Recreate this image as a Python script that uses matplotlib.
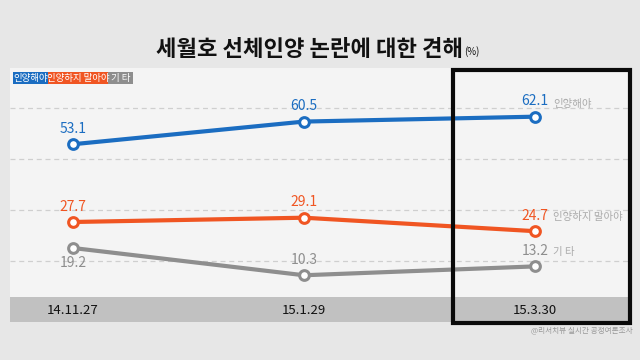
import matplotlib
matplotlib.use("Agg")
import matplotlib.pyplot as plt
from matplotlib.patches import Rectangle
from matplotlib.transforms import blended_transform_factory

plt.rcParams['font.family'] = ['Noto Sans CJK KR', 'DejaVu Sans']

dates = ["14.11.27", "15.1.29", "15.3.30"]
should_raise = [53.1, 60.5, 62.1]
should_not = [27.7, 29.1, 24.7]
other = [19.2, 10.3, 13.2]
series_names = ["인양해야", "인양하지 말아야", "기 타"]
grid_values = [15.0, 31.67, 48.33, 65.0]
title = "세월호 선체인양 논란에 대한 견해"
source = "@리서치뷰 실시간 공정여론조사"

W, H = 640, 360
fig = plt.figure(figsize=(6.4, 3.6), dpi=100)
fig.patch.set_facecolor('#e7e7e7')

def fx(px):
    return px / W

def fy(py):
    return 1 - py / H

# panel background
fig.add_artist(Rectangle((fx(10), fy(297)), fx(622), 229 / H, transform=fig.transFigure,
                         facecolor='#f4f4f4', edgecolor='none', zorder=0))
# date band
fig.add_artist(Rectangle((fx(10), fy(322)), fx(620), 25 / H, transform=fig.transFigure,
                         facecolor='#c1c1c1', edgecolor='none', zorder=0))

ax = fig.add_axes([fx(10), fy(297), fx(622), 229 / H])
ax.set_facecolor('none')
ax.set_xlim(-0.273, 2.42)
ax.set_ylim(3.2, 78.0)
for s in ax.spines.values():
    s.set_visible(False)
ax.set_yticks(grid_values)
ax.set_xticks([])
ax.tick_params(left=False, labelleft=False)
ax.grid(axis='y', color='#cfcfcf', linestyle=(0, (4, 3)), linewidth=0.9)

colors = ['#1b6dc1', '#f05522', '#8e8e8e']
series = [should_raise, should_not, other]
x = list(range(len(dates)))
for vals, c in zip(series, colors):
    ax.plot(x, vals, color=c, linewidth=3, marker='o', markersize=7,
            markerfacecolor='white', markeredgecolor=c, markeredgewidth=2.2,
            solid_capstyle='round', zorder=3)

# value labels (offsets in points)
offsets = [
    [11, 11, 11],
    [11, 11, 11],
    [-11, 11, 11],
]
for vals, c, offs in zip(series, colors, offsets):
    for xi, v, o in zip(x, vals, offs):
        ax.annotate(f"{v:.1f}", (xi, v), xytext=(0, o), textcoords='offset points',
                    ha='center', va='center', fontsize=10, color=c)

# series names at right
name_y = [104, 217, 252]
for name, py in zip(series_names, name_y):
    fig.text(fx(553), fy(py), name, ha='left', va='center', fontsize=7.5, color='#aaaaaa')

# date labels
tr = blended_transform_factory(ax.transData, fig.transFigure)
for xi, d in zip(x, dates):
    ax.text(xi, fy(310), d, transform=tr, ha='center', va='center', fontsize=9.5,
            color='#111111')

# title
fig.text(fx(310), fy(49), title, ha='center', va='center', fontsize=16,
         fontweight='black', color='#111111')
fig.text(fx(464), fy(52), "(%)", ha='left', va='center', fontsize=7, color='#111111')

# legend boxes
legend_boxes = [(13, 48), (48, 108), (108, 133)]
for (x0, x1), name, c in zip(legend_boxes, series_names, colors):
    fig.add_artist(Rectangle((fx(x0), fy(84)), fx(x1 - x0), 12.5 / H,
                             transform=fig.transFigure, facecolor=c, edgecolor='none'))
    fig.text(fx((x0 + x1) / 2), fy(78), name, ha='center', va='center',
             fontsize=6.8, color='white')

# source
fig.text(fx(633), fy(330), source, ha='right', va='center', fontsize=5.5, color='#999999')

# highlight rectangle
fig.add_artist(Rectangle((fx(453), fy(323)), fx(177), 253 / H, transform=fig.transFigure,
                         facecolor='none', edgecolor='#0a0a0a', linewidth=3, zorder=10))

fig.savefig("out.png", dpi=100, facecolor=fig.get_facecolor())
